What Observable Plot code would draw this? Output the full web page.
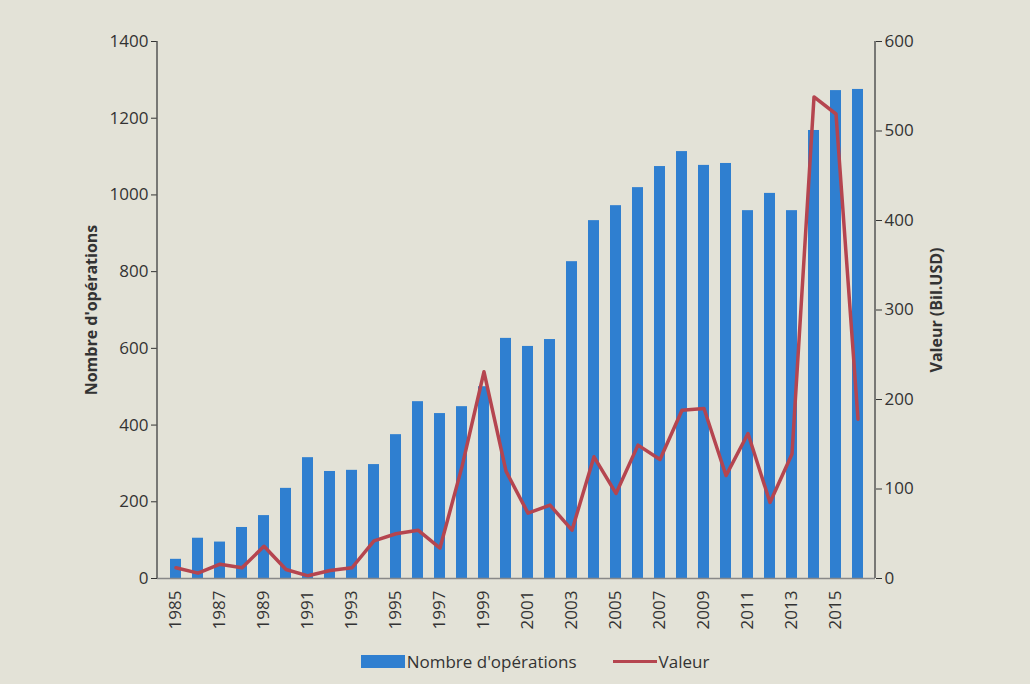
<!DOCTYPE html>
<html>
<head>
<meta charset="utf-8">
<script src="https://cdn.jsdelivr.net/npm/d3@7"></script>
<script src="https://cdn.jsdelivr.net/npm/@observablehq/plot@0.6"></script>
<style>
  body { margin: 0; background: #e3e2d7; font-family: "Open Sans", sans-serif; }
  #chart { width: 1030px; }
  .legend { display: flex; justify-content: center; align-items: center; gap: 36px; font-size: 17px; color: #333; margin-top: 2px; padding-left: 40px; }
  .legend span { display: inline-flex; align-items: center; }
  .sw-bar { width: 44px; height: 13px; background: #2f7fd0; display: inline-block; margin-right: 2px; }
  .sw-line { width: 44px; height: 3px; background: #b5454f; display: inline-block; margin-right: 2px; }
</style>
</head>
<body>
<div id="chart"></div>
<div class="legend">
  <span><i class="sw-bar"></i>Nombre d'opérations</span>
  <span><i class="sw-line"></i>Valeur</span>
</div>
<script>
const years = d3.range(1985, 2017);
const operations = [50, 105, 95, 133, 164, 235, 315, 279, 282, 297, 375, 461, 430, 448, 500, 626, 605, 623, 826, 933, 972, 1019, 1074, 1113, 1077, 1082, 959, 1004, 959, 1168, 1272, 1275];
const valeur = [12, 6, 16, 12, 36, 10, 3, 9, 12, 42, 50, 54, 34, 125, 231, 120, 73, 82, 54, 136, 95, 149, 133, 188, 190, 115, 162, 85, 139, 538, 519, 178];
const leftTicks = [0, 200, 400, 600, 800, 1000, 1200, 1400];
const rightTicks = [0, 100, 200, 300, 400, 500, 600];
const leftMax = 1400, rightMax = 600;
const toLeft = v => v * leftMax / rightMax;

const data = years.map((y, i) => ({year: y, ops: operations[i], val: valeur[i]}));

const chart = Plot.plot({
  width: 1030,
  height: 648,
  marginLeft: 157,
  marginRight: 155,
  marginTop: 41,
  marginBottom: 70,
  style: {background: "transparent", fontFamily: "Open Sans, sans-serif", fontSize: "17px", color: "#333"},
  x: {type: "band", domain: years, paddingInner: 0.5, paddingOuter: 0.15},
  y: {domain: [0, leftMax]},
  marks: [
    Plot.barY(data, {x: "year", y: "ops", fill: "#2f7fd0"}),
    Plot.line(data, {x: "year", y: d => toLeft(d.val), stroke: "#b5454f", strokeWidth: 3.5, strokeLinejoin: "round"}),
    Plot.ruleY([0], {stroke: "#888", strokeWidth: 1.5}),
    Plot.axisY(leftTicks, {anchor: "left", tickSize: 6, tickFormat: d => String(d), label: "Nombre d'opérations", labelAnchor: "center", labelArrow: "none", labelOffset: 72, fontSize: 17}),
    Plot.axisY(rightTicks.map(toLeft), {anchor: "right", tickSize: 6, tickFormat: d => String(Math.round(d * rightMax / leftMax)), label: "Valeur (Bil.USD)", labelAnchor: "center", labelArrow: "none", labelOffset: 66, fontSize: 17}),
    Plot.axisX(years.filter(y => y % 2 === 1), {tickRotate: -90, tickSize: 0, tickPadding: 12, tickFormat: d => String(d), label: null, fontSize: 17})
  ]
});

const svg = d3.select(chart);
svg.selectAll("[aria-label='y-axis label'] text, [aria-label='y-axis label']").attr("font-weight", "bold").attr("font-size", 16);
document.getElementById("chart").appendChild(chart);

// axis spines
const sy = chart.scale("y");
const ns = "http://www.w3.org/2000/svg";
function line(x1, y1, x2, y2) {
  const l = document.createElementNS(ns, "line");
  l.setAttribute("x1", x1); l.setAttribute("y1", y1);
  l.setAttribute("x2", x2); l.setAttribute("y2", y2);
  l.setAttribute("stroke", "#555"); l.setAttribute("stroke-width", 1.5);
  chart.appendChild(l);
}
line(157, sy.apply(0), 157, sy.apply(leftMax));
line(1030 - 155, sy.apply(0), 1030 - 155, sy.apply(leftMax));
</script>
</body>
</html>
